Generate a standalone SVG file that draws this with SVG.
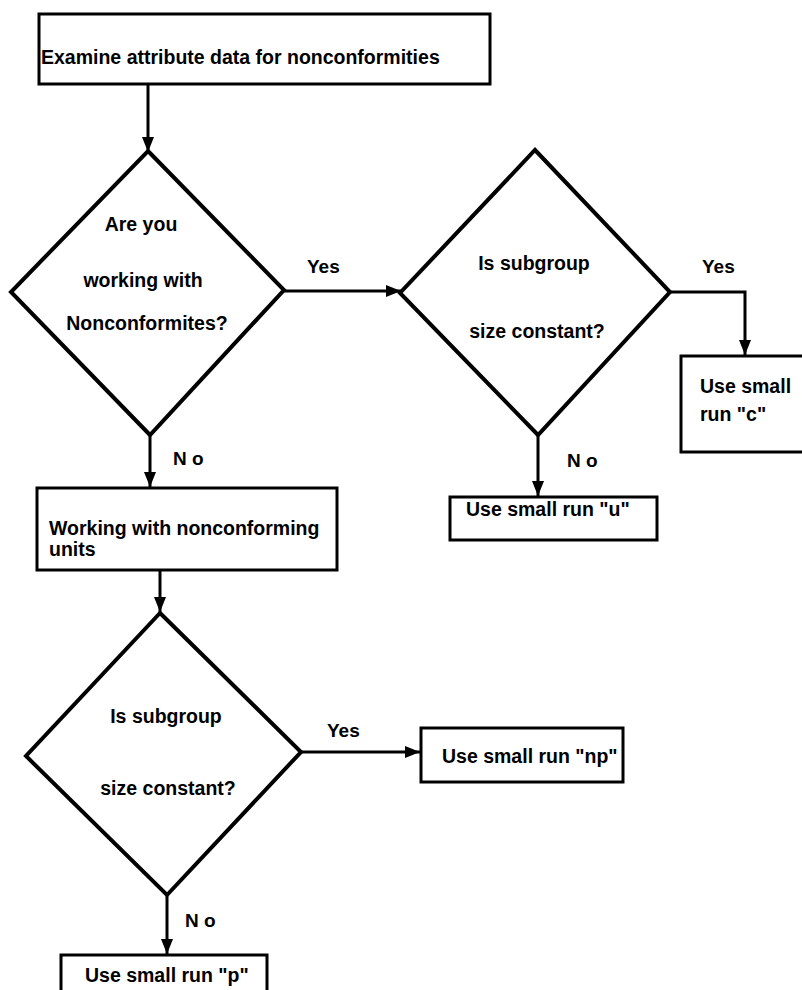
<svg xmlns="http://www.w3.org/2000/svg" width="802" height="990" viewBox="0 0 802 990">
<style>
.box{fill:#fff;stroke:#000;stroke-width:3}
.dia{fill:#fff;stroke:#000;stroke-width:4;stroke-linejoin:miter}
.t{font-family:"Liberation Sans",Arial,sans-serif;font-weight:bold;font-size:19.5px;fill:#000}
.c{text-anchor:middle}
.lbl{font-family:"Liberation Sans",Arial,sans-serif;font-weight:bold;font-size:19px;fill:#000}
.con{fill:none;stroke:#000;stroke-width:3}
</style>
<defs>
<marker id="arr" viewBox="0 0 15 12" refX="15" refY="6" markerWidth="15" markerHeight="12" markerUnits="userSpaceOnUse" orient="auto">
<path d="M0,0 L15,6 L0,12 z" fill="#000"/>
</marker>
</defs>
<rect width="802" height="990" fill="#fff"/>
<g id="connectors">
<line class="con" x1="148" y1="84" x2="148" y2="152" marker-end="url(#arr)"/>
<line class="con" x1="284" y1="291" x2="401" y2="291" marker-end="url(#arr)"/>
<polyline class="con" points="670,292 745,292 745,355" marker-end="url(#arr)"/>
<line class="con" x1="538" y1="435" x2="538" y2="496" marker-end="url(#arr)"/>
<line class="con" x1="150" y1="435" x2="150" y2="487" marker-end="url(#arr)"/>
<line class="con" x1="160" y1="570" x2="160" y2="612" marker-end="url(#arr)"/>
<line class="con" x1="301" y1="752" x2="420" y2="752" marker-end="url(#arr)"/>
<line class="con" x1="167" y1="895" x2="167" y2="954" marker-end="url(#arr)"/>
<text class="lbl" x="307" y="273">Yes</text>
<text class="lbl" x="702" y="273">Yes</text>
<text class="lbl" x="567" y="467">N o</text>
<text class="lbl" x="173" y="465">N o</text>
<text class="lbl" x="327" y="737">Yes</text>
<text class="lbl" x="185" y="927">N o</text>
</g>
<g id="examine">
<rect class="box" x="39" y="14" width="451" height="70"/>
<text class="t" x="41" y="64">Examine attribute data for nonconformities</text>
</g>
<g id="q-nonconformities">
<polygon class="dia" points="148,151 284,290 150,435 11,292"/>
<text class="t c" x="141" y="231">Are you</text>
<text class="t c" x="143" y="287">working with</text>
<text class="t c" x="147" y="330">Nonconformites?</text>
</g>
<g id="q-subgroup-1">
<polygon class="dia" points="535,150 670,292 538,435 400,293"/>
<text class="t c" x="534" y="270">Is subgroup</text>
<text class="t c" x="537" y="338">size constant?</text>
</g>
<g id="use-c">
<rect class="box" x="681" y="356" width="130" height="96"/>
<text class="t" x="700" y="393">Use small</text>
<text class="t" x="700" y="421">run "c"</text>
</g>
<g id="use-u">
<rect class="box" x="450" y="497" width="207" height="43"/>
<text class="t" x="466" y="516">Use small run "u"</text>
</g>
<g id="working-units">
<rect class="box" x="37" y="488" width="300" height="82"/>
<text class="t" x="49" y="535">Working with nonconforming</text>
<text class="t" x="49" y="556">units</text>
</g>
<g id="q-subgroup-2">
<polygon class="dia" points="160,613 301,752 167,895 26,756"/>
<text class="t c" x="166" y="723">Is subgroup</text>
<text class="t c" x="168" y="795">size constant?</text>
</g>
<g id="use-np">
<rect class="box" x="421" y="728" width="202" height="54"/>
<text class="t" x="442" y="763">Use small run "np"</text>
</g>
<g id="use-p">
<rect class="box" x="61" y="955" width="206" height="50"/>
<text class="t" x="85" y="982">Use small run "p"</text>
</g>
</svg>
